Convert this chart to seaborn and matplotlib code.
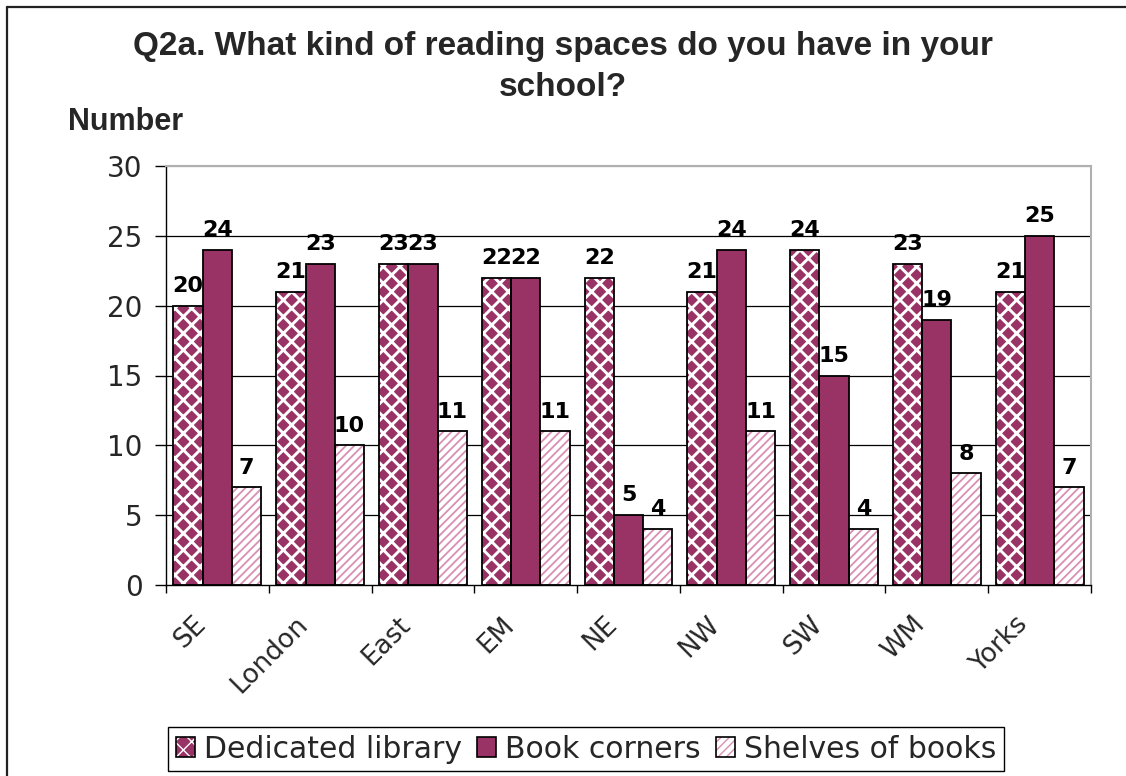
import numpy as np
import pandas as pd
import matplotlib
matplotlib.use("Agg")
import matplotlib.pyplot as plt
import matplotlib.transforms as mtransforms
import seaborn as sns
from matplotlib.patches import Rectangle, Patch
from matplotlib.lines import Line2D
from matplotlib.legend_handler import HandlerTuple

# ---- data ----
regions = ["SE", "London", "East", "EM", "NE", "NW", "SW", "WM", "Yorks"]
dedicated = [20, 21, 23, 22, 22, 21, 24, 23, 21]
corners = [24, 23, 23, 22, 5, 24, 15, 19, 25]
shelves = [7, 10, 11, 11, 4, 11, 4, 8, 7]
series = ["Dedicated library", "Book corners", "Shelves of books"]
yticks = [0, 5, 10, 15, 20, 25, 30]
title = "Q2a. What kind of reading spaces do you have in your\nschool?"
ylabel = "Number"

sns.set_theme(style="white")
plt.rcParams["font.family"] = ["DejaVu Sans"]

df = pd.DataFrame({
    "Region": regions * 3,
    "Series": [s for s in series for _ in regions],
    "Number": dedicated + corners + shelves,
})

W, H = 1126, 776
fig = plt.figure(figsize=(W / 100, H / 100), dpi=100)
L, R, T, B = 166, 1091, 166, 585
ax = fig.add_axes([L / W, 1 - B / H, (R - L) / W, (B - T) / H])

maroon = "#993366"
pink = "#d98fb5"
sns.barplot(data=df, x="Region", y="Number", hue="Series", order=regions,
            hue_order=series, palette=[maroon, maroon, "white"], saturation=1,
            width=0.856, gap=0, ax=ax, legend=False, errorbar=None)

styles = [
    dict(face=maroon, hatch="xx", hc="white", hlw=2.1),
    dict(face=maroon, hatch=None, hc=maroon, hlw=1.0),
    dict(face="white", hatch="////", hc=pink, hlw=1.3),
]


def set_hatch_lw(p, lw):
    if hasattr(p, "set_hatch_linewidth"):
        p.set_hatch_linewidth(lw)
    p._hatch_linewidth = lw


for cont, st in zip(ax.containers, styles):
    for p in cont.patches:
        p.set_facecolor(st["face"])
        p.set_edgecolor(st["hc"])
        if hasattr(p, "set_hatchcolor"):
            p.set_hatchcolor(st["hc"])
        p.set_linewidth(0)
        if st["hatch"]:
            p.set_hatch(st["hatch"])
            set_hatch_lw(p, st["hlw"])
        ax.add_patch(Rectangle((p.get_x(), p.get_y()), p.get_width(), p.get_height(),
                               fill=False, edgecolor="black", linewidth=1.3,
                               zorder=p.get_zorder() + 0.1))
    ax.bar_label(cont, fontsize=16, fontweight="bold", padding=7, color="black")

ax.set_ylim(0, 30)
ax.set_xlim(-0.5, len(regions) - 0.5)
ax.set_yticks(yticks)
ax.set_yticklabels([str(v) for v in yticks], fontsize=20)
ax.set_xticks(range(len(regions)))
ax.set_xticks(np.arange(len(regions) + 1) - 0.5, minor=True)
ax.tick_params(axis="x", which="major", length=0, pad=14)
ax.tick_params(axis="x", which="minor", length=6, width=1, direction="out",
               color="black", bottom=True)
ax.tick_params(axis="y", which="major", length=8, width=1, direction="out",
               color="black", left=True, pad=9)
ax.set_xticklabels(regions, fontsize=19, rotation=45, ha="right",
                   rotation_mode="anchor")
offset = mtransforms.ScaledTranslation(-0.25, -0.07, fig.dpi_scale_trans)
for lab in ax.get_xticklabels():
    lab.set_transform(lab.get_transform() + offset)
ax.set_xlabel("")
ax.set_ylabel("")

ax.yaxis.grid(True, color="black", linewidth=0.9)
ax.set_axisbelow(True)
glines = ax.get_ygridlines()
glines[-1].set_color("#b0b0b0")
glines[0].set_visible(False)

for side in ["left", "bottom"]:
    ax.spines[side].set_color("black")
    ax.spines[side].set_linewidth(1.0)
for side in ["top", "right"]:
    ax.spines[side].set_color("#b0b0b0")
    ax.spines[side].set_linewidth(1.5)

fig.text(0.5, 1 - 31 / H, title, ha="center", va="top", fontsize=24,
         fontweight="bold", family="Liberation Sans", linespacing=1.4)
fig.text(68 / W, 1 - 130 / H, ylabel, ha="left", va="baseline", fontsize=22,
         fontweight="bold", family="Liberation Sans")

# legend
handles = []
for st in styles:
    hp = Patch(facecolor=st["face"], edgecolor=st["hc"], linewidth=0,
               hatch=st["hatch"])
    if hasattr(hp, "set_hatchcolor"):
        hp.set_hatchcolor(st["hc"])
    if st["hatch"]:
        set_hatch_lw(hp, st["hlw"])
    op = Patch(fill=False, edgecolor="black", linewidth=1.2)
    handles.append((hp, op))
leg = fig.legend(handles, series, loc="center",
                 bbox_to_anchor=(586 / W, 1 - 749 / H), ncol=3,
                 handler_map={tuple: HandlerTuple(ndivide=1, pad=0)},
                 frameon=True, fancybox=False, edgecolor="black", framealpha=1,
                 fontsize=21.5, handlelength=0.65, handleheight=0.65,
                 handletextpad=0.3, columnspacing=0.5, borderpad=0.25)
leg.get_frame().set_linewidth(1.0)

# outer chart border
fig.add_artist(Line2D([7 / W, 7 / W], [0, 1 - 7 / H], transform=fig.transFigure,
                      color="#222222", linewidth=1.6))
fig.add_artist(Line2D([7 / W, 1], [1 - 7 / H, 1 - 7 / H], transform=fig.transFigure,
                      color="#222222", linewidth=1.6))

fig.savefig("out.png", dpi=100, facecolor="white")
